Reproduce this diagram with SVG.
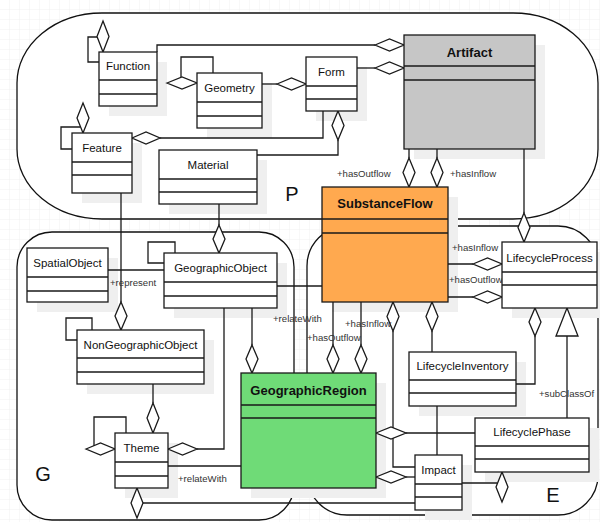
<svg xmlns="http://www.w3.org/2000/svg" width="600" height="522" viewBox="0 0 600 522">
<style>
.rg{fill:#fff;stroke:#111;stroke-width:1.3}
.sh{fill:#efefef}
.bx{fill:#fff;stroke:#1a1a1a;stroke-width:1.3}
.ln{fill:none;stroke:#1a1a1a;stroke-width:1.3}
.dm{fill:#fff;stroke:#1a1a1a;stroke-width:1.3}
.nm{font-family:"Liberation Sans",Arial,sans-serif;font-size:11.5px;text-anchor:middle;fill:#111}
.bn{font-weight:bold;font-size:13px}
.lb{font-family:"Liberation Sans",Arial,sans-serif;font-size:9.6px;fill:#333}
.rl{font-family:"Liberation Sans",Arial,sans-serif;font-size:20px;fill:#111;text-anchor:middle}
</style>
<defs>
<pattern id="grid" width="10" height="10" patternUnits="userSpaceOnUse">
<path d="M10,0 V10 M0,10 H10" fill="none" stroke="#f1f1f1" stroke-width="1"/>
</pattern>
</defs>
<rect width="600" height="522" fill="#fff"/>
<rect width="600" height="522" fill="url(#grid)"/>
<g id="regions">
<rect class="rg" x="17" y="13" width="581" height="206" rx="85" ry="70"/>
<rect class="rg" x="17" y="232" width="277" height="288" rx="35" ry="35"/>
<rect class="rg" x="307" y="226" width="291" height="289" rx="40" ry="40"/>
<text class="rl" x="292" y="201">P</text>
<text class="rl" x="43" y="481">G</text>
<text class="rl" x="553" y="502">E</text>
</g>
<g id="shadows">
<rect class="sh" x="109" y="62" width="58" height="54"/>
<rect class="sh" x="207" y="83" width="65" height="55"/>
<rect class="sh" x="316" y="67" width="51" height="54"/>
<rect class="sh" x="414" y="45" width="131" height="114"/>
<rect class="sh" x="82" y="143" width="60" height="60"/>
<rect class="sh" x="169" y="160" width="98" height="54"/>
<rect class="sh" x="37" y="258" width="81" height="54"/>
<rect class="sh" x="174" y="263" width="113" height="55"/>
<rect class="sh" x="87" y="340" width="127" height="54"/>
<rect class="sh" x="125" y="443" width="53" height="55"/>
<rect class="sh" x="251" y="383" width="135" height="115"/>
<rect class="sh" x="332" y="197" width="126" height="115"/>
<rect class="sh" x="512" y="252" width="88" height="66"/>
<rect class="sh" x="419" y="362" width="107" height="54"/>
<rect class="sh" x="485" y="428" width="114" height="54"/>
<rect class="sh" x="425" y="465" width="47" height="55"/>
</g>
<g id="connectors">
<path class="ln" d="M99,62 H88 V37 H97"/>
<path class="ln" d="M157,52 V45 H375"/>
<path class="ln" d="M213,73 V57 H181 V77"/>
<path class="ln" d="M262,84 H277"/>
<path class="ln" d="M357,68 H375"/>
<path class="ln" d="M72,149 H61 V127 H80"/>
<path class="ln" d="M160,138 H323 V111"/>
<path class="ln" d="M257,155 H338 V140"/>
<path class="ln" d="M409,149 V158 M437,149 V158"/>
<path class="ln" d="M524,149 V213"/>
<path class="ln" d="M121,193 V302"/>
<path class="ln" d="M219,204 V225"/>
<path class="ln" d="M108,270 H164"/>
<path class="ln" d="M175,253 V242 H148 V263 H164"/>
<path class="ln" d="M92,330 V318 H66 V340 H77"/>
<path class="ln" d="M153,384 V403"/>
<path class="ln" d="M126,433 V417 H94 V446"/>
<path class="ln" d="M224,308 V449 H197"/>
<path class="ln" d="M252,308 V345"/>
<path class="ln" d="M168,466 H241"/>
<path class="ln" d="M143,503 H415"/>
<path class="ln" d="M277,286 H322"/>
<path class="ln" d="M333,302 V345 M361,302 V345"/>
<path class="ln" d="M448,264 H473 M448,297 H473"/>
<path class="ln" d="M432,331 V352"/>
<path class="ln" d="M393,331 V467 H415"/>
<path class="ln" d="M535,336 V384 H516"/>
<path class="ln" d="M567,336 V418"/>
<path class="ln" d="M475,433 H406"/>
<path class="ln" d="M415,477 H406"/>
<path class="ln" d="M437,406 V455"/>
<path class="ln" d="M462,483 H497"/>
<path class="dm" d="M103,21 L109,36.5 L103,52 L97,36.5 Z"/>
<path class="dm" d="M375,45 L389.5,39 L404,45 L389.5,51 Z"/>
<path class="dm" d="M167,83 L182,77 L197,83 L182,89 Z"/>
<path class="dm" d="M277,84 L291.5,78 L306,84 L291.5,90 Z"/>
<path class="dm" d="M375,68 L389.5,62 L404,68 L389.5,74 Z"/>
<path class="dm" d="M83,103 L89,118 L83,133 L77,118 Z"/>
<path class="dm" d="M132,138 L146,132 L160,138 L146,144 Z"/>
<path class="dm" d="M338,111 L344,125.5 L338,140 L332,125.5 Z"/>
<path class="dm" d="M409,158 L415,172.5 L409,187 L403,172.5 Z"/>
<path class="dm" d="M437,158 L443,172.5 L437,187 L431,172.5 Z"/>
<path class="dm" d="M524,213 L530,227.5 L524,242 L518,227.5 Z"/>
<path class="dm" d="M121,302 L127,316 L121,330 L115,316 Z"/>
<path class="dm" d="M219,225 L225,239 L219,253 L213,239 Z"/>
<path class="dm" d="M153,403 L159,418 L153,433 L147,418 Z"/>
<path class="dm" d="M86,449 L100.5,443 L115,449 L100.5,455 Z"/>
<path class="dm" d="M168,449 L182.5,443 L197,449 L182.5,455 Z"/>
<path class="dm" d="M137,488 L143,503 L137,518 L131,503 Z"/>
<path class="dm" d="M252,345 L258,359 L252,373 L246,359 Z"/>
<path class="dm" d="M333,345 L339,359 L333,373 L327,359 Z"/>
<path class="dm" d="M361,345 L367,359 L361,373 L355,359 Z"/>
<path class="dm" d="M473,264 L487.5,258 L502,264 L487.5,270 Z"/>
<path class="dm" d="M473,297 L487.5,291 L502,297 L487.5,303 Z"/>
<path class="dm" d="M432,302 L438,316.5 L432,331 L426,316.5 Z"/>
<path class="dm" d="M393,302 L399,316.5 L393,331 L387,316.5 Z"/>
<path class="dm" d="M535,308 L541,322 L535,336 L529,322 Z"/>
<path class="dm" d="M567,308 L578,336 L556,336 Z"/>
<path class="dm" d="M376,433 L391,427 L406,433 L391,439 Z"/>
<path class="dm" d="M376,477 L391,471 L406,477 L391,483 Z"/>
<path class="dm" d="M502,472 L508,487 L502,502 L496,487 Z"/>
<text class="lb" x="337" y="176.5">+hasOutflow</text>
<text class="lb" x="450" y="176.5">+hasInflow</text>
<text class="lb" x="110" y="285.5">+represent</text>
<text class="lb" x="273" y="321.5">+relateWith</text>
<text class="lb" x="345" y="326.5">+hasInflow</text>
<text class="lb" x="307" y="341">+hasOutflow</text>
<text class="lb" x="452" y="250.5">+hasInflow</text>
<text class="lb" x="449" y="282.5">+hasOutflow</text>
<text class="lb" x="539" y="397">+subClassOf</text>
<text class="lb" x="178" y="481.5">+relateWith</text>
</g>
<g id="Function">
<rect class="bx" x="99" y="52" width="58" height="54"/>
<path class="ln" d="M99,80 H157 M99,94 H157"/>
<text class="nm" x="128" y="70">Function</text>
</g>
<g id="Geometry">
<rect class="bx" x="197" y="73" width="65" height="55"/>
<path class="ln" d="M197,102 H262 M197,116 H262"/>
<text class="nm" x="229.5" y="92">Geometry</text>
</g>
<g id="Form">
<rect class="bx" x="306" y="57" width="51" height="54"/>
<path class="ln" d="M306,86 H357 M306,99 H357"/>
<text class="nm" x="331.5" y="76">Form</text>
</g>
<g id="Artifact">
<rect class="bx" x="404" y="35" width="131" height="114" style="fill:#c6c6c6"/>
<path class="ln" d="M404,66 H535 M404,80 H535"/>
<text class="nm bn" x="469.5" y="56.5">Artifact</text>
</g>
<g id="Feature">
<rect class="bx" x="72" y="133" width="60" height="60"/>
<path class="ln" d="M72,162 H132 M72,175 H132"/>
<text class="nm" x="102" y="152">Feature</text>
</g>
<g id="Material">
<rect class="bx" x="159" y="150" width="98" height="54"/>
<path class="ln" d="M159,179 H257 M159,192 H257"/>
<text class="nm" x="208" y="169">Material</text>
</g>
<g id="SpatialObject">
<rect class="bx" x="27" y="248" width="81" height="54"/>
<path class="ln" d="M27,277 H108 M27,291 H108"/>
<text class="nm" x="67.5" y="267">SpatialObject</text>
</g>
<g id="GeographicObject">
<rect class="bx" x="164" y="253" width="113" height="55"/>
<path class="ln" d="M164,282 H277 M164,296 H277"/>
<text class="nm" x="220.5" y="272">GeographicObject</text>
</g>
<g id="NonGeographicObject">
<rect class="bx" x="77" y="330" width="127" height="54"/>
<path class="ln" d="M77,358 H204 M77,372 H204"/>
<text class="nm" x="140.5" y="349">NonGeographicObject</text>
</g>
<g id="Theme">
<rect class="bx" x="115" y="433" width="53" height="55"/>
<path class="ln" d="M115,462 H168 M115,476 H168"/>
<text class="nm" x="141.5" y="452">Theme</text>
</g>
<g id="GeographicRegion">
<rect class="bx" x="241" y="373" width="135" height="115" style="fill:#6fdb77"/>
<path class="ln" d="M241,405 H376 M241,418 H376"/>
<text class="nm bn" x="308.5" y="394.5">GeographicRegion</text>
</g>
<g id="SubstanceFlow">
<rect class="bx" x="322" y="187" width="126" height="115" style="fill:#ffa94f"/>
<path class="ln" d="M322,219 H448 M322,233 H448"/>
<text class="nm bn" x="385" y="208">SubstanceFlow</text>
</g>
<g id="LifecycleProcess">
<rect class="bx" x="502" y="242" width="95" height="66"/>
<path class="ln" d="M502,272 H597 M502,285 H597"/>
<text class="nm" x="549.5" y="262">LifecycleProcess</text>
</g>
<g id="LifecycleInventory">
<rect class="bx" x="409" y="352" width="107" height="54"/>
<path class="ln" d="M409,380 H516 M409,393 H516"/>
<text class="nm" x="462.5" y="370">LifecycleInventory</text>
</g>
<g id="LifecyclePhase">
<rect class="bx" x="475" y="418" width="114" height="54"/>
<path class="ln" d="M475,446 H589 M475,459 H589"/>
<text class="nm" x="532" y="436">LifecyclePhase</text>
</g>
<g id="Impact">
<rect class="bx" x="415" y="455" width="47" height="55"/>
<path class="ln" d="M415,484 H462 M415,497 H462"/>
<text class="nm" x="438.5" y="474">Impact</text>
</g>
</svg>
